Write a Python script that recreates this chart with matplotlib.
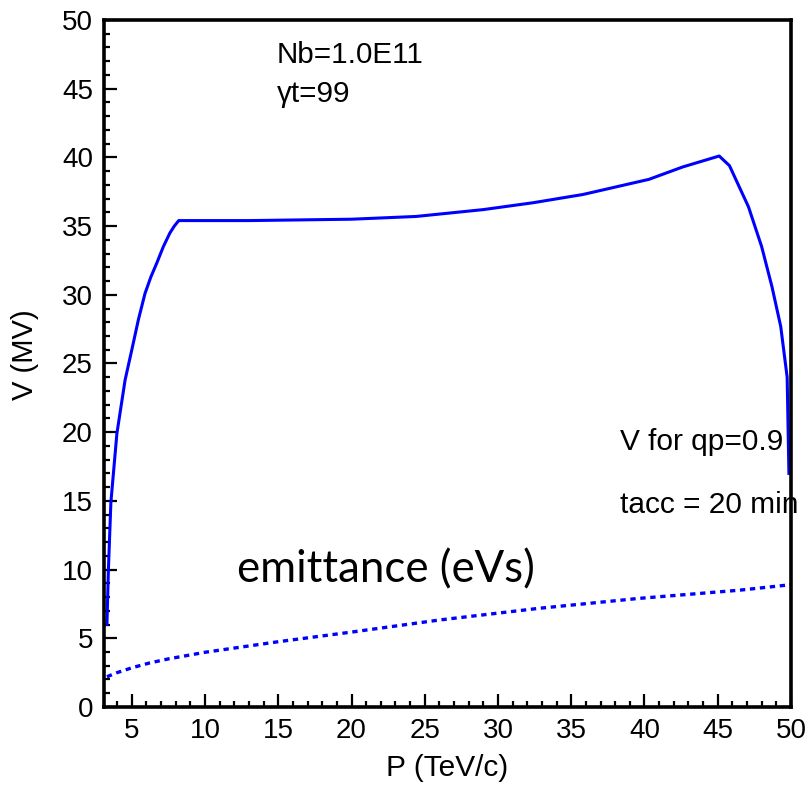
import matplotlib
matplotlib.use("Agg")
import matplotlib.pyplot as plt

# RF voltage needed for qp = 0.9 along the ramp
p_voltage = [3.3, 3.4, 3.57, 3.98, 4.54, 5.0, 5.45, 5.9, 6.3, 6.7, 7.15, 7.6, 7.9, 8.2,
             13.0, 20.0, 24.4, 29.0, 32.4, 35.8, 40.3, 42.6, 45.1, 45.8, 47.1,
             48.0, 48.7, 49.3, 49.74, 49.86]
voltage = [6.0, 10.0, 14.9, 19.9, 23.8, 26.0, 28.2, 30.1, 31.3, 32.3, 33.5, 34.5, 35.0,
           35.4, 35.4, 35.5, 35.7, 36.2, 36.7, 37.3, 38.4, 39.3, 40.1, 39.4, 36.4,
           33.5, 30.6, 27.7, 24.0, 17.0]

# longitudinal emittance along the ramp
p_emit = [3.3, 4.0, 5.0, 6.2, 7.5, 10.0, 15.0, 20.0, 26.0, 32.8, 39.6, 46.5, 50.0]
emittance = [2.2, 2.5, 2.85, 3.2, 3.5, 3.98, 4.75, 5.45, 6.33, 7.18, 7.9, 8.5, 8.9]

x_ticks = [5, 10, 15, 20, 25, 30, 35, 40, 45, 50]
y_ticks = [0, 5, 10, 15, 20, 25, 30, 35, 40, 45, 50]

plt.rcParams['font.family'] = ['Liberation Sans', 'DejaVu Sans']

fig = plt.figure(figsize=(8.10, 7.87), dpi=100)
ax = fig.add_axes([0.1284, 0.1017, 0.8481, 0.8729])

ax.plot(p_voltage, voltage, color='#0000ff', lw=2.2, solid_joinstyle='round')
ax.plot(p_emit, emittance, color='#0000ff', lw=2.4, linestyle=(0, (1.6, 1.4)),
        dash_capstyle='butt')

ax.set_xlim(3.1, 50)
ax.set_ylim(0, 50)
ax.set_xticks(x_ticks)
ax.set_yticks(y_ticks)
ax.set_xticks(range(4, 50), minor=True)
ax.set_yticks(range(1, 50), minor=True)

for s in ax.spines.values():
    s.set_linewidth(2.6)
ax.tick_params(which='both', direction='in', top=False, right=False,
               width=1.6, labelsize=20, colors='black')
ax.tick_params(which='major', length=9.5, pad=8)
ax.tick_params(which='minor', length=4.5)

ax.set_xlabel('P (TeV/c)', fontsize=21.5, labelpad=7)
ax.set_ylabel('V (MV)', fontsize=21)
ax.yaxis.set_label_coords(-0.094, 0.513)

ax.text(14.9, 46.9, 'Nb=1.0E11', fontsize=21.3)
ax.text(14.9, 44.0, 'γt=99', fontsize=21.3)
ax.text(38.3, 18.7, 'V for qp=0.9', fontsize=21.5)
ax.text(38.3, 14.1, 'tacc = 20 min', fontsize=21.5, clip_on=False)
ax.text(12.2, 9.05, 'emittance (eVs)', fontsize=31.5, family=['Lato', 'DejaVu Sans'])

fig.savefig('out.png', dpi=100)
